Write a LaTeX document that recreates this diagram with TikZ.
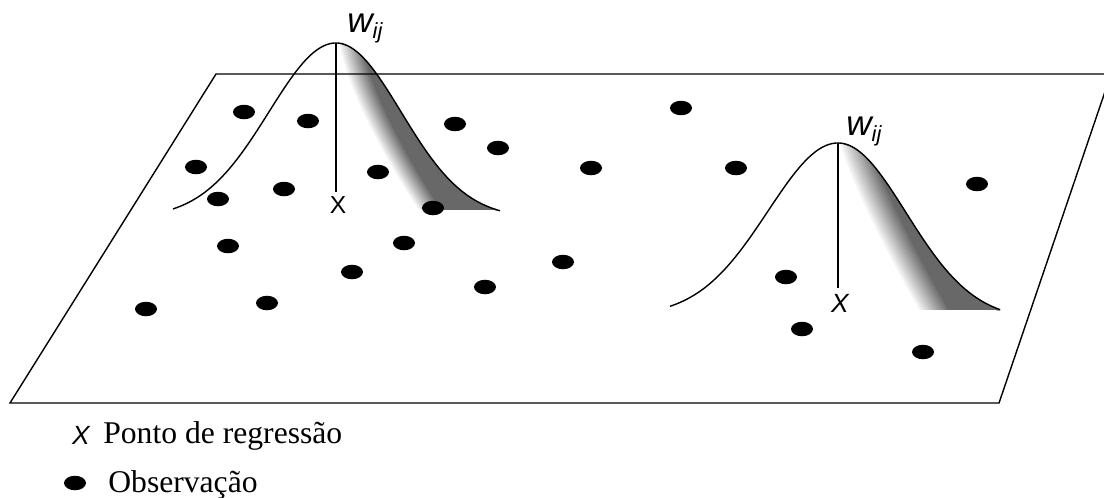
\documentclass[tikz,border=0pt]{standalone}
\usepackage{fontspec}
\setmainfont{Liberation Serif}
\newfontfamily\arial{Liberation Sans}
\usetikzlibrary{shapes.geometric}
\definecolor{shadegray}{RGB}{104,104,104}
\begin{document}
\begin{tikzpicture}[x=0.02cm,y=-0.02cm,
  declare function={
    gLa(\x)=218-175*exp(-0.5*((\x-336)/67)*((\x-336)/67));
    gLb(\x)=218-175*exp(-0.5*((\x-336)/65)*((\x-336)/65));
    gRa(\x)=316-173*exp(-0.5*((\x-838)/70)*((\x-838)/70));
    gRb(\x)=320-177*exp(-0.5*((\x-838)/68)*((\x-838)/68));
    xinL(\u)=338+79*pow(\u,1.38);
    xoL(\u)=336+65*sqrt(2*ln(175/(175-167*\u)));
    xinR(\u)=838+79*pow(\u,1.2);
    xoR(\u)=838+68*sqrt(2*ln(177/(177-167*\u)));
  },
  obsdot/.style={ellipse,fill=black,minimum width=0.44cm,minimum height=0.29cm,inner sep=0pt},
  planeedge/.style={line width=0.8pt,line join=miter},
  bellline/.style={line width=0.8pt},
  stemline/.style={line width=0.7pt},
  xlab/.style={inner sep=0pt,font=\arial\fontsize{14}{14}\selectfont},
  wlab/.style={inner sep=0pt,anchor=base west,font=\arial\itshape\fontsize{20}{20}\selectfont},
  legtext/.style={inner sep=0pt,anchor=base west,font=\fontsize{18}{18}\selectfont}]
\useasboundingbox (0,0) rectangle (1104,497);
\clip (0,0) rectangle (1104,497);
% ---- shading of the left bell
\foreach \k in {1,...,12}{
  \pgfmathsetmacro\myoff{2*\k}
  \pgfmathsetmacro\mypc{100*\k/12}
  \fill[shadegray!\mypc!white] (336,43)
    -- plot[domain=0.002:1,samples=50,variable=\u]
       ({xinL(\u)+max(0,min(\myoff,xoL(\u)-xinL(\u)))},{43+167*\u})
    -- (498,210)
    -- plot[domain=498:336,samples=50] (\x,{gLb(\x)})
    -- cycle;
}
% ---- shading of the right bell
\foreach \k in {1,...,12}{
  \pgfmathsetmacro\myoff{2.6*\k}
  \pgfmathsetmacro\mypc{100*\k/12}
  \fill[shadegray!\mypc!white] (838,143)
    -- plot[domain=0.002:1,samples=50,variable=\u]
       ({xinR(\u)+max(0,min(\myoff,xoR(\u)-xinR(\u)))},{143+167*\u})
    -- (1000,310)
    -- plot[domain=1000:838,samples=50] (\x,{gRb(\x)})
    -- cycle;
}
% ---- plane
\coordinate (p1) at (10,403);
\coordinate (p2) at (216,74);
\coordinate (p3) at (1111,74);
\coordinate (p4) at (999,403);
\draw[planeedge] (p1) -- (p2) -- (p3) -- (p4) -- cycle;
% ---- bell curves
\draw[bellline] plot[domain=173:336,samples=80] (\x,{gLa(\x)})
  -- plot[domain=336:500,samples=80] (\x,{gLb(\x)});
\draw[bellline] plot[domain=670:838,samples=80] (\x,{gRa(\x)})
  -- plot[domain=838:1000,samples=80] (\x,{gRb(\x)});
% ---- regression points and stems
\coordinate (topL) at (336,43);
\coordinate (topR) at (838,143);
\node[xlab] (xL) at (338,205) {X};
\node[xlab,font=\arial\itshape\fontsize{15}{15}\selectfont] (xR) at (840,303) {X};
\draw[stemline] (topL) -- (336,192);
\draw[stemline] (topR) -- (838,288);
\node[wlab] (wL) at (347,32) {w\raisebox{-3.5pt}{\fontsize{12.5}{12.5}\selectfont ij}};
\node[wlab] (wR) at (846,135) {w\raisebox{-3.5pt}{\fontsize{12.5}{12.5}\selectfont ij}};
% ---- observations
\foreach \px/\py [count=\i] in {244/112,308/121,196/167,218/199,284/189,378/172,455/124,498/148,433/208,
  228/246,404/243,352/272,485/287,563/262,267/303,146/309,591/168,681/108,736/168,977/184,786/277,802/329,923/352}{
  \node[obsdot] (o\i) at (\px,\py) {};
}
% ---- legend
\node[xlab,font=\arial\itshape\fontsize{15}{15}\selectfont] (legX) at (81,435) {X};
\node[legtext] (legXt) at (103,443) {Ponto de regressão};
\node[obsdot] (legO) at (75,483) {};
\node[legtext] (legOt) at (108,492) {Observação};
\end{tikzpicture}
\end{document}
